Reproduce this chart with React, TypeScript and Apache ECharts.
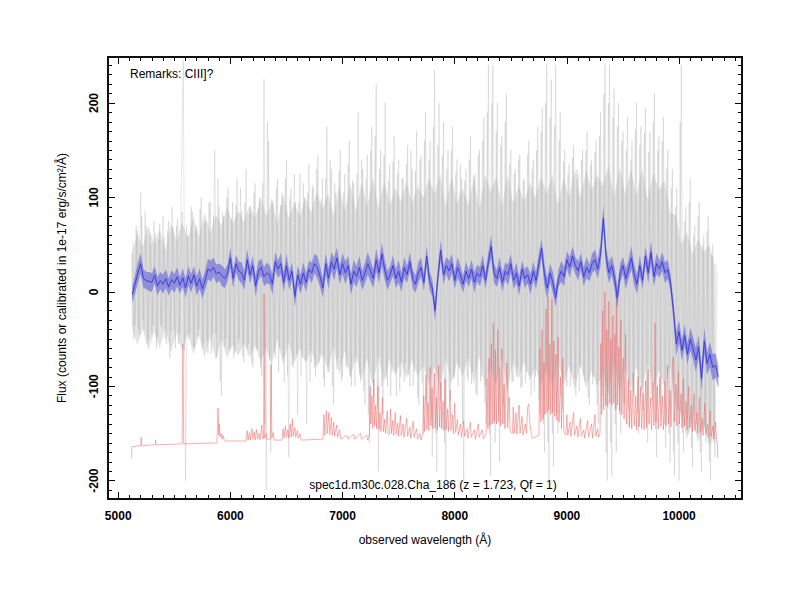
import React, { useEffect, useRef } from "react";
import * as echarts from "echarts";

// ---------- data ----------
const GRAY_START = 5120;
const GRAY_STEP = 20;
// raw (noisy) spectrum, one value every 20 Å from 5120 Å
const grayFlux = [
  40, -50, 70, -40, 105, -30, 85, -55, 60, -45,
  75, -60, 55, -35, 80, -50, 65, -70, 90, -40,
  70, -55, 95, 245, -200, 60, -45, 85, -60, 70,
  -40, 100, -55, 75, -65, 95, -45, 150, -70, 90,
  -110, 80, -50, 110, -60, 95, -65, 120, -50, 85,
  -75, 130, -55, 90, -80, 115, -60, 100, -90, 225,
  -210, 160, -170, 95, -70, 120, -60, 105, -95, 140,
  -175, 110, -80, 95, -130, 125, -70, 100, -140, 135,
  -75, 110, -90, 145, -65, 120, -100, 175, -85, 130,
  -120, 105, -70, 150, -90, 125, -80, 160, -100, 115,
  -75, 190, -95, 130, -120, 145, -160, 175, -110, 220,
  -190, 150, -130, 200, -100, 135, -85, 165, -110, 140,
  -90, 120, -75, 155, -100, 130, -85, 170, -120, 145,
  -150, 190, -130, 160, -175, 235, -190, 200, -145, 180,
  -200, 150, -115, 175, -90, 140, -80, 120, -200, 130,
  -95, 165, -85, 125, -110, 150, -90, 185, -140, 240,
  -195, 240, -160, 200, -180, 165, -140, 210, -120, 150,
  -95, 130, -80, 145, -100, 120, -85, 160, -110, 140,
  -90, 175, -130, 195, -170, 240, -200, 225, -185, 240,
  -150, 190, -125, 150, -100, 135, -85, 155, -110, 125,
  -80, 150, -95, 170, -120, 140, -90, 160, -140, 190,
  -110, 240, -200, 240, -195, 215, -170, 200, -150, 170,
  -120, 185, -140, 160, -110, 200, -150, 175, -125, 195,
  -160, 170, -115, 210, -175, 165, -130, 185, -165, 150,
  -180, 130, -195, 110, -200, 240, -170, 90, -150, 120,
  -185, 70, -140, 95, -190, 60, -160, 80, -200, 50,
  -175, 20,
];
// the same spectrum, pixels in between (every 20 Å from 5130 Å)
const GRAY2_START = 5130;
const grayFlux2 = [
  55, -35, 65, -45, 80, -40, 70, -50, 50, -35,
  62, -48, 72, -38, 58, -55, 75, -42, 68, -60,
  78, -45, 85, -62, 70, -50, 90, -58, 65, -48,
  88, -60, 72, -52, 95, -65, 80, -45, 120, -95,
  85, -58, 100, -62, 78, -70, 92, -55, 110, -68,
  95, -60, 82, -75, 105, -62, 88, -80, 115, -140,
  180, -72, 98, -65, 110, -85, 92, -70, 120, -88,
  100, -78, 125, -66, 95, -90, 115, -72, 105, -95,
  112, -80, 130, -75, 98, -92, 120, -85, 140, -100,
  115, -82, 128, -95, 105, -78, 135, -90, 118, -100,
  125, -88, 140, -105, 120, -130, 150, -95, 165, -120,
  130, -100, 145, -92, 118, -110, 138, -85, 125, -105,
  120, -95, 135, -88, 150, -100, 128, -112, 140, -96,
  160, -120, 140, -135, 175, -150, 155, -115, 145, -160,
  130, -105, 150, -92, 125, -100, 135, -140, 118, -90,
  140, -98, 122, -108, 145, -95, 160, -118, 190, -150,
  200, -140, 170, -130, 155, -120, 180, -105, 135, -95,
  125, -90, 140, -102, 118, -96, 145, -88, 130, -105,
  150, -115, 170, -140, 200, -160, 185, -150, 175, -130,
  160, -110, 138, -95, 125, -100, 142, -92, 130, -105,
  140, -88, 150, -112, 135, -98, 148, -120, 165, -100,
  210, -170, 200, -160, 185, -140, 175, -130, 160, -118,
  150, -125, 140, -105, 172, -130, 155, -110, 168, -135,
  148, -108, 180, -145, 150, -120, 160, -140, 130, -150,
  110, -170, 90, -160, 180, -150, 75, -135, 95, -165,
  60, -130, 80, -170, 50, -145, 65, -180, 40, -160,
  30,
];

// dense core of the noisy spectrum, every 50 Å from 5120 Å
const CORE_START = 5120;
const CORE_STEP = 50;
const grayCoreHi = [
  40, 62, 48, 70, 50, 66, 44, 72, 54, 74,
  56, 80, 58, 84, 62, 82, 70, 90, 72, 86,
  74, 92, 78, 100, 80, 96, 72, 104, 78, 94,
  80, 100, 84, 106, 88, 104, 80, 112, 86, 114,
  86, 116, 90, 122, 88, 118, 92, 110, 96, 116,
  94, 112, 100, 120, 104, 124, 90, 122, 94, 110,
  92, 120, 88, 124, 106, 122, 90, 124, 94, 112,
  96, 116, 100, 122, 104, 124, 92, 120, 100, 130,
  100, 128, 108, 124, 112, 134, 100, 132, 104, 130,
  102, 130, 98, 126, 108, 118, 84, 82, 50, 64,
  40, 56, 42, 50, 28,
];
const grayCoreLo = [
  -36, -56, -40, -62, -42, -60, -38, -64, -44, -62,
  -44, -66, -46, -70, -48, -72, -50, -70, -56, -68,
  -54, -70, -56, -74, -60, -76, -50, -78, -54, -76,
  -60, -76, -62, -80, -66, -82, -58, -88, -62, -92,
  -66, -94, -70, -100, -68, -96, -72, -88, -74, -92,
  -72, -90, -78, -98, -80, -100, -70, -98, -74, -90,
  -70, -98, -68, -102, -82, -100, -70, -102, -74, -92,
  -74, -94, -80, -100, -82, -102, -72, -98, -78, -104,
  -76, -102, -84, -100, -86, -108, -76, -106, -80, -104,
  -78, -104, -76, -102, -84, -100, -80, -120, -130, -156,
  -136, -160, -140, -164, -150,
];

const BLUE_START = 5125;
const BLUE_STEP = 25;
// smoothed spectrum, one value every 25 Å from 5125 Å
const blueFlux = [
  -3, 8, 20, 30, 14, 12, 11, 10, 18, 6,
  12, 8, 14, 5, 13, 9, 16, 7, 15, 4,
  17, 9, 18, 6, 14, 3, 12, 24, 22, 26,
  19, 21, 17, 14, 20, 36, 14, 30, 22, 20,
  12, 34, 18, 28, 6, 22, 26, 16, 20, 18,
  8, 32, 24, 30, 10, 28, 12, 22, -5, 18,
  8, 20, 10, 24, 20, 30, 26, 16, 4, 30,
  14, 32, 24, 36, 18, 30, 20, 28, 8, 22,
  16, 26, 12, 20, 30, 22, 14, 34, 20, 40,
  24, 12, 18, 28, 14, 22, 10, 26, 18, 32,
  14, 8, 20, 26, 10, 38, 12, 4, -20, 16,
  44, 18, 28, 22, 30, 12, 26, 18, 8, 22,
  14, 24, 10, 20, 16, 28, 12, 32, 48, 20,
  14, 26, 10, 22, 18, 30, 12, 20, 6, 24,
  14, 18, 8, 22, 12, 30, 46, 18, 4, 20,
  10, -6, 14, 22, 16, 34, 26, 38, 28, 22,
  32, 16, 26, 20, 30, 34, 24, 40, 78, 36,
  20, 28, 14, -6, 20, 28, 14, 24, 36, 18,
  8, 28, 12, 38, 20, 42, 16, 30, 24, 32,
  20, 24, 8, -20, -55, -42, -62, -46, -66, -50,
  -60, -72, -58, -92, -52, -76, -66, -80, -78, -90,
];
// half-width of the blue uncertainty band
const blueErr = [
  9, 10, 11, 11, 10, 9, 10, 10, 9, 10,
  9, 10, 10, 9, 10, 10, 10, 9, 10, 10,
  10, 10, 9, 10, 11, 10, 10, 11, 11, 10,
  10, 9, 11, 10, 9, 11, 10, 9, 10, 11,
  10, 11, 9, 10, 11, 10, 9, 10, 11, 10,
  11, 10, 9, 11, 10, 12, 10, 9, 11, 10,
  10, 11, 10, 9, 11, 10, 12, 11, 10, 11,
  11, 10, 12, 11, 10, 11, 12, 10, 11, 12,
  11, 12, 10, 11, 12, 11, 10, 12, 11, 12,
  11, 10, 9, 11, 10, 12, 10, 11, 9, 10,
  10, 9, 11, 10, 9, 11, 10, 9, 11, 10,
  11, 10, 9, 11, 10, 9, 11, 10, 9, 10,
  9, 10, 11, 9, 10, 11, 9, 10, 12, 10,
  9, 11, 10, 9, 11, 10, 9, 11, 10, 9,
  10, 9, 11, 10, 9, 11, 10, 12, 11, 10,
  11, 10, 9, 11, 10, 9, 11, 10, 9, 10,
  9, 10, 11, 9, 10, 11, 10, 12, 13, 11,
  11, 10, 12, 11, 10, 9, 11, 10, 12, 11,
  10, 11, 9, 10, 11, 12, 10, 11, 9, 10,
  11, 10, 9, 11, 13, 12, 11, 12, 11, 12,
  12, 13, 12, 13, 14, 12, 13, 14, 13, 12,
];

// sky spectrum [wavelength Å, flux]
const skyPoints: [number, number][] = [
  [5120, -176], [5122, -164], [5200, -163], [5205, -154], [5210, -163], [5330, -162], [5334, -157], [5338, -162],
  [5570, -161], [5577, -55], [5584, -161], [5880, -160], [5890, -123], [5896, -152], [5902, -140], [5908, -154],
  [5918, -150], [5926, -156], [5936, -152], [5944, -157], [5960, -158],
  [6140, -158], [6150, -147], [6158, -157], [6170, -149], [6178, -157], [6192, -145], [6200, -156], [6212, -148],
  [6220, -157], [6234, -146], [6242, -156], [6256, -150], [6264, -157], [6280, -141], [6288, -155], [6296, -156],
  [6300, -2], [6306, -155], [6318, -150], [6326, -156], [6356, -156], [6363, -77], [6370, -155], [6382, -149], [6390, -157],
  [6460, -157], [6470, -145], [6478, -155], [6490, -142], [6498, -154], [6512, -146], [6520, -155], [6534, -140],
  [6542, -154], [6553, -135], [6561, -153], [6575, -144], [6583, -154], [6597, -147], [6605, -155], [6620, -150], [6630, -157],
  [6825, -156], [6834, -130], [6842, -152], [6856, -126], [6864, -150], [6878, -128], [6886, -151], [6900, -133],
  [6908, -152], [6922, -138], [6930, -153], [6948, -141], [6956, -154], [6975, -146], [6985, -156], [7040, -152],
  [7048, -156], [7100, -151], [7108, -156], [7160, -150], [7168, -156], [7215, -152], [7225, -157],
  [7240, -150], [7246, -100], [7252, -140], [7262, -110], [7270, -145], [7278, -93], [7286, -142], [7296, -120],
  [7304, -145], [7316, -100], [7324, -146], [7334, -128], [7342, -148], [7356, -112], [7364, -148], [7376, -135],
  [7384, -150], [7398, -126], [7406, -151],
  [7420, -150], [7428, -124], [7436, -150], [7448, -136], [7456, -152], [7470, -128], [7478, -151], [7492, -139],
  [7500, -153], [7516, -131], [7524, -152], [7540, -140], [7548, -154], [7572, -134], [7580, -153], [7600, -143],
  [7608, -155], [7630, -137], [7638, -154], [7660, -145], [7668, -156], [7690, -150], [7700, -157],
  [7716, -150], [7724, -110], [7732, -148], [7744, -88], [7752, -146], [7762, -118], [7770, -147], [7780, -80],
  [7788, -142], [7798, -102], [7806, -145], [7818, -86], [7826, -144], [7838, -112], [7846, -146], [7856, -78],
  [7864, -143], [7876, -96], [7884, -145], [7896, -116], [7904, -147], [7914, -92], [7922, -146], [7936, -124],
  [7944, -148], [7958, -104], [7966, -147], [7980, -130], [7988, -150], [8000, -118], [8008, -149], [8024, -135], [8032, -152],
  [8052, -140], [8060, -154], [8080, -137], [8088, -153], [8110, -145], [8118, -155], [8140, -138], [8148, -154],
  [8176, -146], [8184, -156], [8210, -140], [8218, -154], [8245, -146], [8255, -156],
  [8280, -150], [8288, -92], [8296, -145], [8306, -70], [8314, -142], [8326, -55], [8334, -140], [8344, -33],
  [8352, -138], [8364, -62], [8372, -140], [8384, -40], [8392, -138], [8402, -80], [8410, -142], [8420, -60],
  [8428, -140], [8440, -98], [8448, -145], [8464, -75], [8472, -144], [8486, -112], [8494, -148],
  [8515, -150], [8522, -122], [8530, -150], [8546, -128], [8554, -151], [8574, -120], [8582, -150], [8600, -132],
  [8608, -152], [8630, -140], [8640, -150], [8650, -122], [8660, -119], [8670, -140], [8690, -155],
  [8750, -152], [8760, -60], [8768, -138], [8778, -40], [8786, -135], [8796, -75], [8804, -130], [8814, -18],
  [8822, -128], [8830, -5], [8838, -125], [8848, -55], [8856, -130], [8866, -8], [8874, -128], [8884, -52],
  [8892, -132], [8902, -66], [8910, -136], [8922, -48], [8930, -138], [8944, -90], [8952, -145], [8964, -70], [8972, -148],
  [8990, -152], [9000, -130], [9008, -152], [9028, -138], [9036, -153], [9060, -128], [9068, -152], [9090, -142],
  [9098, -154], [9120, -134], [9128, -153], [9150, -146], [9158, -155], [9185, -136], [9193, -154], [9220, -140],
  [9228, -155], [9250, -130], [9258, -153], [9275, -145], [9283, -154],
  [9295, -150], [9302, -55], [9310, -130], [9320, -20], [9328, -125], [9338, 0], [9346, -120], [9356, -40],
  [9364, -122], [9374, -10], [9382, -118], [9392, -50], [9400, -120], [9410, -25], [9418, -118], [9428, -45],
  [9436, -125], [9444, -2], [9452, -120], [9462, -58], [9470, -126], [9482, -30], [9490, -130], [9502, -70],
  [9510, -135], [9524, -45], [9532, -140],
  [9548, -92], [9556, -144], [9570, -104], [9578, -145], [9592, -86], [9600, -142], [9614, -110], [9622, -146],
  [9636, -90], [9644, -143], [9658, -100], [9666, -145], [9680, -108], [9688, -146], [9702, -94], [9710, -144],
  [9724, -82], [9732, -140], [9746, -112], [9754, -146], [9768, -96], [9776, -142], [9786, -33], [9794, -138],
  [9806, -100], [9814, -145], [9830, -90], [9838, -143], [9852, -110], [9860, -146],
  [9876, -95], [9884, -142], [9898, -78], [9906, -140], [9920, -104], [9928, -143], [9942, -72], [9950, -69],
  [9958, -138], [9972, -98], [9980, -142], [9994, -84], [10002, -140], [10018, -108], [10026, -144], [10040, -92],
  [10048, -142], [10062, -116], [10070, -146], [10086, -100], [10094, -144], [10110, -120], [10118, -148],
  [10134, -108], [10142, -147], [10158, -128], [10166, -150], [10182, -112], [10190, -149], [10206, -134],
  [10214, -152], [10230, -118], [10238, -151], [10254, -140], [10262, -154], [10278, -126], [10286, -153],
  [10302, -142], [10310, -156], [10326, -138], [10334, -158], [10342, -160], [10345, -176],
];

const xMajorTicks = [5000, 6000, 7000, 8000, 9000, 10000];
const xMinorTicks = [
  5100, 5200, 5300, 5400, 5500, 5600, 5700, 5800, 5900,
  6100, 6200, 6300, 6400, 6500, 6600, 6700, 6800, 6900,
  7100, 7200, 7300, 7400, 7500, 7600, 7700, 7800, 7900,
  8100, 8200, 8300, 8400, 8500, 8600, 8700, 8800, 8900,
  9100, 9200, 9300, 9400, 9500, 9600, 9700, 9800, 9900,
  10100, 10200, 10300, 10400, 10500,
];
const yMajorTicks = [-200, -100, 0, 100, 200];
const yMinorTicks = [
  -210, -190, -180, -170, -160, -150, -140, -130, -120, -110,
  -90, -80, -70, -60, -50, -40, -30, -20, -10,
  10, 20, 30, 40, 50, 60, 70, 80, 90,
  110, 120, 130, 140, 150, 160, 170, 180, 190,
  210, 220, 230, 240,
];

const remarkText = "Remarks: CIII]?";
const footText = "spec1d.m30c.028.Cha_186 (z = 1.723, Qf = 1)";
const xTitle = "observed wavelength (Å)";
const yTitle = "Flux (counts or calibrated in 1e-17 erg/s/cm²/Å)";

const X_MIN = 4909;
const X_MAX = 10561;
const Y_MIN = -219.4;
const Y_MAX = 248.7;

const FONT = '"Liberation Sans", Arial, Helvetica, sans-serif';

function axis(
  kind: "x" | "y",
  position: string,
  ticks: number[],
  len: number,
  labels: boolean
) {
  return {
    type: "value",
    position,
    min: kind === "x" ? X_MIN : Y_MIN,
    max: kind === "x" ? X_MAX : Y_MAX,
    splitLine: { show: false },
    axisLine: { show: true, onZero: false, lineStyle: { color: "#000", width: 1.5 } },
    axisTick: {
      show: true,
      inside: true,
      length: len,
      customValues: ticks,
      lineStyle: { color: "#000", width: 1 },
    },
    axisLabel: labels
      ? {
          show: true,
          customValues: ticks,
          formatter: (v: number) => String(v),
          color: "#000",
          fontFamily: FONT,
          fontWeight: "bold",
          fontSize: 12,
          margin: kind === "x" ? 11 : 8,
          rotate: kind === "y" ? 90 : 0,
        }
      : { show: false },
  };
}

function bandSeries(
  start: number,
  step: number,
  hi: number[],
  lo: number[],
  fill: string,
  z: number
) {
  return {
    type: "custom",
    xAxisIndex: 0,
    yAxisIndex: 0,
    silent: true,
    z,
    clip: true,
    data: [[start, hi[0]]],
    renderItem: (params: any, api: any) => {
      if (params.dataIndex !== 0) return null;
      const up = hi.map((v, i) => api.coord([start + i * step, v]));
      const dn = lo.map((v, i) => api.coord([start + i * step, v])).reverse();
      return {
        type: "polygon",
        shape: { points: up.concat(dn) },
        style: { fill, stroke: "none" },
      };
    },
  };
}

function lineSeries(data: number[][], color: string, width: number, z: number) {
  return {
    type: "line",
    data,
    xAxisIndex: 0,
    yAxisIndex: 0,
    symbol: "none",
    silent: true,
    z,
    lineStyle: { color, width },
  };
}

export default function App() {
  const ref = useRef<HTMLDivElement>(null);

  useEffect(() => {
    if (!ref.current) return;
    const chart = echarts.init(ref.current, undefined, { renderer: "svg" });

    const grayData = grayFlux.map((v, i) => [GRAY_START + i * GRAY_STEP, v]);
    const grayData2 = grayFlux2.map((v, i) => [GRAY2_START + i * GRAY_STEP, v]);
    const blueData = blueFlux.map((v, i) => [BLUE_START + i * BLUE_STEP, v]);
    const blueHi = blueFlux.map((v, i) => v + blueErr[i]);
    const blueLo = blueFlux.map((v, i) => v - blueErr[i]);

    chart.setOption({
      animation: false,
      backgroundColor: "#fff",
      grid: { left: 108, right: 58, top: 57, bottom: 101, containLabel: false },
      xAxis: [
        axis("x", "bottom", xMajorTicks, 7, true),
        axis("x", "bottom", xMinorTicks, 4, false),
        axis("x", "top", xMajorTicks, 7, false),
        axis("x", "top", xMinorTicks, 4, false),
      ],
      yAxis: [
        axis("y", "left", yMajorTicks, 7, true),
        axis("y", "left", yMinorTicks, 4, false),
        axis("y", "right", yMajorTicks, 7, false),
        axis("y", "right", yMinorTicks, 4, false),
      ],
      series: [
        bandSeries(CORE_START, CORE_STEP, grayCoreHi, grayCoreLo, "rgba(200,200,200,0.5)", 1),
        lineSeries(grayData, "rgba(170,170,170,0.4)", 0.7, 1),
        lineSeries(grayData2, "rgba(170,170,170,0.4)", 0.7, 1),
        lineSeries(skyPoints, "rgba(240,105,105,0.75)", 0.7, 2),
        bandSeries(BLUE_START, BLUE_STEP, blueHi, blueLo, "rgba(95,95,220,0.6)", 3),
        lineSeries(blueData, "#3e3ee0", 1, 4),
      ],
      graphic: [
        {
          type: "text",
          x: 130,
          y: 74,
          style: { text: remarkText, font: `12px ${FONT}`, fill: "#000", verticalAlign: "middle" },
        },
        {
          type: "text",
          x: 433,
          y: 485,
          style: { text: footText, font: `12px ${FONT}`, fill: "#000", align: "center", verticalAlign: "middle" },
        },
        {
          type: "text",
          x: 425,
          y: 540,
          style: { text: xTitle, font: `12px ${FONT}`, fill: "#000", align: "center", verticalAlign: "middle" },
        },
        {
          type: "text",
          x: 62,
          y: 278,
          rotation: Math.PI / 2,
          style: { text: yTitle, font: `12px ${FONT}`, fill: "#000", align: "center", verticalAlign: "middle" },
        },
      ],
    });

    return () => chart.dispose();
  }, []);

  return (
    <div
      ref={ref}
      style={{ position: "fixed", left: 0, top: 0, width: 800, height: 600, background: "#fff" }}
    />
  );
}
